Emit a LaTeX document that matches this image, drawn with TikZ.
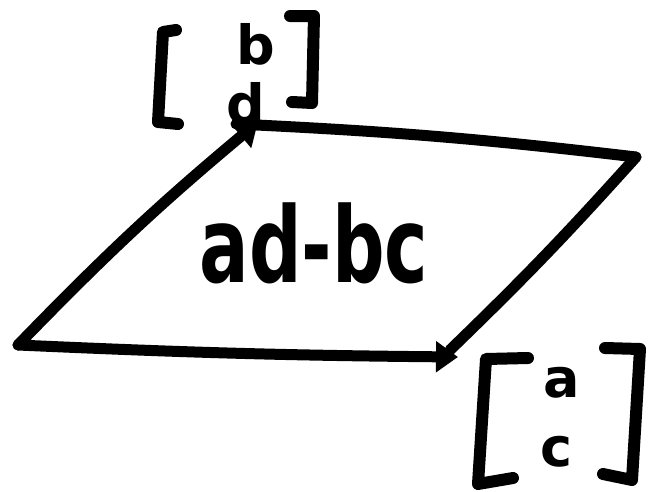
\documentclass[tikz,border=0pt]{standalone}
\usepackage{fontspec}
\setmainfont{DejaVu Sans}
\usetikzlibrary{arrows.meta}
\begin{document}
\begin{tikzpicture}[x=1pt,y=-1pt,
  stroke/.style={line width=11pt,line cap=round,line join=round},
  vec/.style={stroke,-{Triangle[length=22pt,width=30pt]}},
  brk/.style={stroke,line width=12pt},
  ent/.style={font=\fontsize{54}{54}\selectfont\bfseries,inner sep=0pt},
  big/.style={font=\fontsize{105}{105}\selectfont\bfseries,inner sep=0pt,xscale=0.7}]
\useasboundingbox (0,0) rectangle (649,491);
\coordinate (O) at (18,345);
\coordinate (A) at (458,357);
\coordinate (B) at (258,122);
\coordinate (C) at (636,157);
\coordinate (Bs) at (236,124);
\coordinate (As) at (450,350);
% parallel edges (no arrows)
\draw[stroke] (Bs) to[bend left=2] (C);
\draw[stroke] (C) to[bend left=2] (As);
% vectors
\draw[vec] (O) to[bend right=1] (A);
\draw[vec] (O) to[bend left=3] (B);
% label ad-bc
\node[big] (det) at (314,243) {ad-bc};
% matrix [b;d]
\draw[brk] (176,30) -- (163,32) -- (158,122) -- (178,124);
\draw[brk] (290,16) -- (314,16) -- (312,103) -- (292,102);
\node[ent] (b) at (256,44) {b};
\node[ent] (d) at (246,103) {d};
% matrix [a;c]
\draw[brk] (528,358) -- (486,359) -- (478,484) -- (513,478);
\draw[brk] (605,348) -- (640,349) -- (632,480) -- (603,474);
\node[ent] (a) at (562,383) {a};
\node[ent] (c) at (557,452) {c};
\end{tikzpicture}
\end{document}
